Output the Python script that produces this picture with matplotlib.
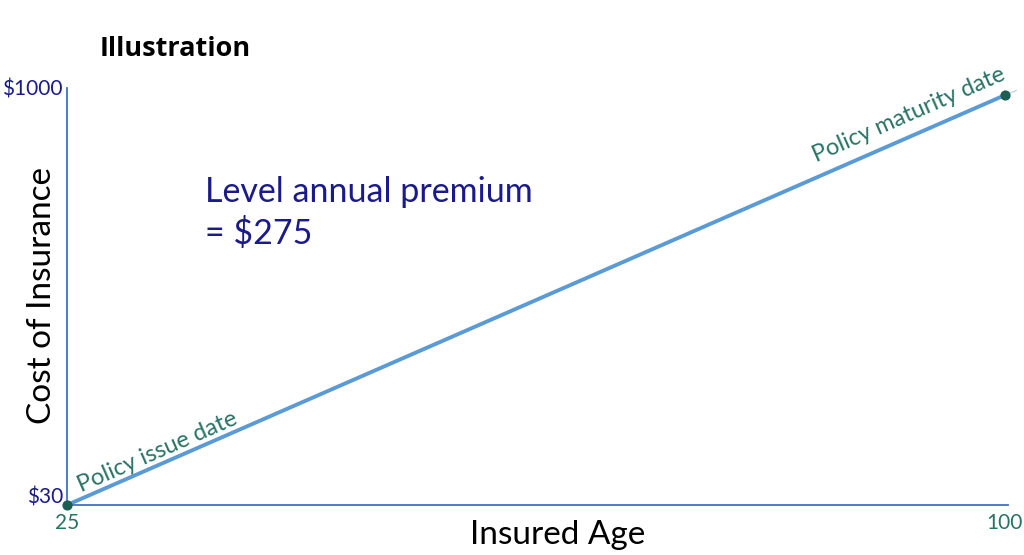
import matplotlib
matplotlib.use("Agg")
import matplotlib.pyplot as plt
from matplotlib.transforms import ScaledTranslation

# Data
ages = [25, 100]
costs = [30, 1000]
x_tick_labels = ["25", "100"]
y_tick_labels = ["$30", "$1000"]
premium_text = "Level annual premium\n= $275"
start_label = "Policy issue date"
end_label = "Policy maturity date"

NAVY = "#1a1a8c"
TEAL = "#2a7265"
LINE = "#5b9bd5"
SPINE = "#4472c4"
DOT = "#1d5e52"

W, H = 1024, 555
fig = plt.figure(figsize=(W/100, H/100), dpi=100)
ax = fig.add_axes([67/W, 1-505/H, (1008-67)/W, (505-88)/H])

ax.plot(ages, costs, color=LINE, lw=2.8, solid_capstyle="round", zorder=2)
ax.plot([ages[-1], ages[-1] + 0.9], [costs[-1], costs[-1] + 11], color=LINE, lw=1, alpha=0.4, zorder=1, clip_on=False)
ax.scatter(ages, costs, s=40, color=DOT, zorder=3, clip_on=False)

ax.set_xlim(25, 100.25)
ax.set_ylim(30, 1017)
for s in ["top", "right"]:
    ax.spines[s].set_visible(False)
for s in ["left", "bottom"]:
    ax.spines[s].set_color(SPINE)
    ax.spines[s].set_linewidth(1.3)

ax.set_xticks(ages)
ax.set_xticklabels(x_tick_labels, fontsize=15, color=TEAL, family="Lato")
ax.set_yticks([costs[0], 1017])
ax.set_yticklabels(y_tick_labels, fontsize=15, color=NAVY, family="Lato")
ax.tick_params(length=0, pad=3)
ax.tick_params(axis="x", pad=6)
lab30 = ax.get_yticklabels()[0]
lab30.set_transform(lab30.get_transform() + ScaledTranslation(0, 9/100, fig.dpi_scale_trans))

ax.set_xlabel("Insured Age", fontsize=24, family="Lato")
ax.xaxis.set_label_coords((558-67)/(1008-67), -(535-505)/(505-88))
ax.xaxis.label.set_va("center")
ax.set_ylabel("Cost of Insurance", fontsize=24, family="Lato")
ax.yaxis.set_label_coords(-(67-42)/(1008-67), (505-295)/(505-88))
ax.yaxis.label.set_va("center")

fig.text(100/W, 1-49/H, "Illustration", fontsize=19.5, weight="bold", family="Open Sans", va="center", ha="left")

fig.text(205/W, 1-213/H, premium_text, fontsize=24.5, color=NAVY,
         family="Lato", va="center", ha="left", linespacing=1.3)

ang = 23.6
ax.text(26.3, 52, start_label, rotation=ang, rotation_mode="anchor", fontsize=17, color=TEAL,
        family="Lato", ha="left", va="bottom")
ax.text(100.3, 1030, end_label, rotation=ang, rotation_mode="anchor", fontsize=17, color=TEAL,
        family="Lato", ha="right", va="bottom")

fig.savefig("out.png", dpi=100)
